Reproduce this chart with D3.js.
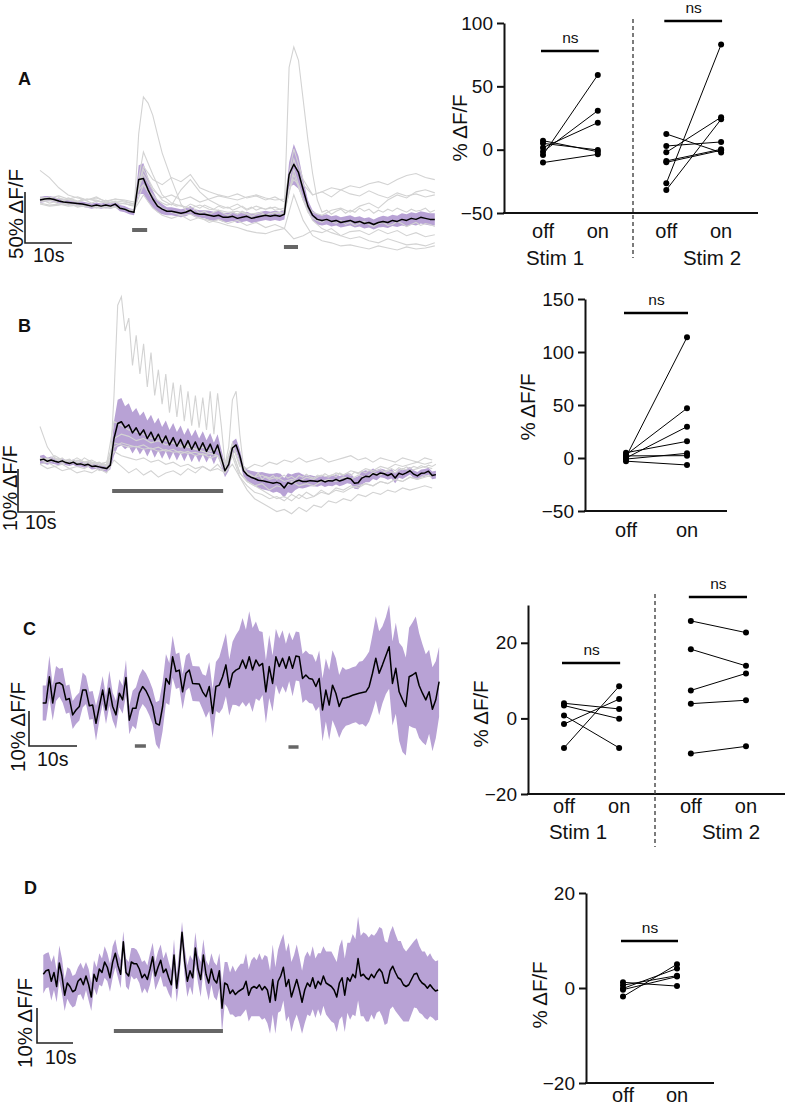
<!DOCTYPE html>
<html><head><meta charset="utf-8">
<script src="https://cdn.jsdelivr.net/npm/d3@7"></script>
<style>body{margin:0;background:#fff}svg text{font-family:"Liberation Sans",Arial,Helvetica,sans-serif;fill:#111}</style>
</head><body><svg id="fig" width="786" height="1106"></svg>
<script>
// ---------------- DATA ----------------
// Panel A traces (%dF/F, 1 s samples for mean/sem)
const A_mean=[0,1,1.5,0.5,-1,-2,-2.5,-3,-3.5,-4,-5,-6,-5,-6,-5,-6,-4,-8,-9,-11,
 -12,20,21,10,1,-6,-9,-11,-11,-12,-13,
 -12,-10,-13,-14,-14,-15,-16,-15,-17,-17,-16,-18,-17,-16,-18,-17,-16,-15,-16,-15,-16,
 -14,25,35,27,10,-6,-15,
 -19,-20,-19,-21,-20,-22,-21,-20,-22,-21,-23,-22,-24,-22,-21,-22,-20,-21,-19,-20,-18,-19,-17,-18,-19,-19];
const A_sem=[3,3,2.5,2.5,2.5,2.5,2.5,2.5,2.5,2.5,2.5,2.5,2.5,2.5,2.5,2.5,3,3,3,3,
 3,14,15,12,8,6,5,4,4,4,4,
 4,4,4,4,4,4.5,4.5,4.5,4.5,4.5,4.5,4.5,4.5,4.5,4.5,4.5,4.5,4.5,4.5,4.5,4.5,
 5,12,20,16,10,6,5,
 5,5,5,5,5,5,5,5,5,5,5,5,5,5,5.5,5.5,5.5,5.5,6,6,6,6,6,6,6,6];
const A_grey1=[-2,-1,-3,-2,-4,-3,-5,-4,-6,-5,-4,-6,-7,-5,-6,-8,-7,-8,-9,-10,
 -12,65,101,95,83,64,46,33,20,8,-4,
 -10,-12,-9,-13,-11,-14,-12,-10,-13,-15,-12,-14,-11,-13,-16,-14,-12,-15,-13,-14,-12,
 -13,10,20,15,0,-12,
 -18,-20,-22,-19,-21,-23,-20,-24,-22,-25,-23,-21,-24,-26,-23,-22,-25,-24,-21,-23,-26,-24,-22,-25,-23,-24,-26];
const A_grey2=[2,1,3,0,2,-1,1,0,-2,1,-1,-3,-1,-2,0,-3,-2,-4,-3,-5,
 -6,10,15,10,5,0,-3,-5,-4,-6,
 -5,-7,-4,-6,-8,-5,-7,-9,-6,-8,-7,-10,-8,-6,-9,-7,-10,-8,-9,-7,-10,-9,
 -8,130,150,137,98,59,26,0,
 -12,-10,-14,-11,-9,-13,-10,-12,-8,-11,-9,-13,-10,-12,-9,-11,-8,-10,-12,-9,-11,-10,-8,-12,-10];
// 2 s samples
const A_grey3=[29,22,12,5,2,0,3,-2,1,-1,-4,33,20,15,22,18,25,12,8,5,3,6,2,4,0,3,-2,40,15,5,8,12,10,14,12,16,18,15,20,24,26,22,20];
const A_grey4=[0,-1,2,0,-2,1,-1,-3,-2,-4,-5,47,25,5,-3,-6,-8,-5,-9,-10,-12,-11,-14,-13,-15,-12,-14,30,0,-20,-28,-32,-35,-38,-36,-40,-42,-38,-41,-44,-43,-45,-42];
const A_grey5=[-3,-5,-4,-6,-5,-7,-6,-8,-7,-9,-10,15,0,-8,-12,-15,-14,-18,-20,-22,-25,-27,-30,-32,-33,-30,-28,5,-20,-35,-40,-42,-45,-44,-46,-48,-45,-47,-49,-46,-48,-47,-45];
const A_grey6=[3,2,4,1,3,0,2,-1,1,0,-2,25,10,2,5,0,3,-2,1,4,2,0,3,5,2,0,1,50,20,5,8,3,10,6,4,9,5,2,7,4,6,3,5];
const A_grey7=[-4,-6,-5,-3,-7,-5,-8,-6,-7,-9,-10,5,-8,-15,-18,-15,-20,-17,-22,-19,-23,-20,-25,-22,-27,-24,-28,-38,-35,-30,-32,-28,-35,-31,-30,-34,-29,-33,-30,-35,-32,-36,-34];
const A_grey8=[1,0,-2,2,-1,1,0,-3,-1,-2,-4,30,12,0,-5,10,20,8,0,-5,-8,-4,-10,-6,-9,-7,-11,25,0,-12,-15,-10,-8,-12,-6,-3,-8,0,5,2,8,10,7];
const A_stims=[[19.6,22.8],[51.9,54.9]];

// Panel B traces (1 s samples)
const B_mean=[0,0.2,-0.3,0,-0.3,-0.5,-0.2,-0.6,-0.8,-0.5,-1,-0.9,-1.2,-1,-1.5,-1.4,-1.6,-1.8,-2,-1.2,
 5,8.5,8.9,7.5,8.2,6.3,7.5,5.8,7,5,6.5,4.5,6,4,5.6,3.5,5.2,3.2,4.8,2.8,4.5,2.5,4.2,2.2,4,2,3.7,1.5,3.5,0.5,
 -2.5,-1,2.8,3.5,1,-2.5,-3.5,
 -4,-4.3,-4.7,-4.8,-5,-5.2,-5.4,-5.2,-5.5,-6.5,-5.3,-5.6,-5,-4.7,-5,-5,-4.8,-4.9,-5,-4.7,
 -5.1,-4.8,-4.9,-4.5,-4.9,-4.6,-4.2,-4.4,-5.4,-5.3,-4.2,-3.8,-3.9,-3.2,-3.5,-3,-3.2,-3.6,-3.2,-4.2,
 -3.1,-3.4,-3,-2.5,-3.3,-3.7,-3.1,-3,-2.6,-3.6,-3.4];
const B_sem=[1,1,0.8,0.8,0.7,0.7,0.6,0.6,0.6,0.6,0.6,0.6,0.6,0.6,0.7,0.7,0.7,0.8,0.8,1,
 4,5.5,5.5,5,5,4.8,4.6,4.5,4.3,4.2,4,4,3.8,3.7,3.6,3.5,3.4,3.3,3.2,3.1,3,3,2.9,2.8,2.7,2.6,2.6,2.5,2.5,2,
 1.5,1.5,1.5,1.5,1.5,1.3,1.3,
 1.5,1.6,1.8,2,2,2,2.2,2.2,2.3,2.3,2.2,2.2,2,1.8,1.6,1.4,1.3,1.2,1.2,1.2,
 1.2,1.2,1.2,1.2,1.2,1.2,1.2,1.2,1.3,1.5,1.5,1.4,1.3,1.2,1.2,1,1,1,1.1,1.2,
 1,1,0.9,0.9,0.9,0.9,0.9,0.9,0.8,0.9,0.9];
const B_grey1=[0.5,0,0.3,-0.2,0,0.4,-0.3,0,0.2,-0.5,-0.2,0,-0.6,-0.3,-0.8,-0.5,-1,-0.7,-1.2,-0.5,
 15,36,38,30,33,22,29,20,27,17,25,15,21,13,20,11,18,10,17.5,9,16,8,15,7.5,14.5,7,16,6,15.5,8,-1,3,14,16,6,-1.5,-3,
 -3.5,-4,-3,-4.5,-3.8,-4.2,-3.6,-4.5,-4,-3.5,-4.2,-3.8,-4.4,-3.6,-4,-3.3,-3.9,-4.2,-3.5,-3.8,
 -3.2,-3.7,-3.4,-3.9,-3,-3.5,-3.1,-3.6,-2.8,-3.2,-2.6,-3,-2.4,-2.9,-2.5,-2.2,-2.7,-2.3,-2,-2.5,
 -1.8,-2.2,-1.6,-2,-1.5,-1.8,-1.3,-1.7,-1.2,-1.5,-1];
// 2 s samples
const B_grey2=[7.8,3,0.5,-0.5,0,-1,0.5,-0.5,-1,-1.5,3,4,3.5,3,3.5,2.5,3,2,2.5,1.5,2,1,1.5,0.5,1,-2,2,-3,-5,-6,-5.5,-7,-6,-6.5,-5,-6,-5.5,-6,-5,-4.5,-5,-4,-4.5,-3.5,-4,-3,-3.5,-2.5,-3,-2,-2.5,-2,-1.5,-2];
const B_grey3=[0,-0.5,0.5,-1,0,-0.5,-1,-0.5,-1.5,-1,9,8,7,6.5,6,5,5.5,4.5,4,3.5,3,2.5,2,1.5,1,-2,4,-1,-3,-4,-3.5,-4.5,-4,-5,-4.5,-5,-4,-4.5,-3.5,-4,-3,-3.5,-2.5,-3,-2,-2.5,-1.5,-2,-1,-1.5,-1,-0.5,-1,-0.5];
const B_grey4=[-1,-2,-1.5,-2.5,-2,-3,-2.5,-3,-2,-3,0,-1.5,-3,-2,-3.5,-2.5,-4,-3,-2.5,-3.5,-2,-3,-1.5,-2.5,-1,-3,1,-4,-7,-9,-10,-11,-12,-11.5,-12.5,-11,-12,-10.5,-11,-9.5,-10,-9,-9.5,-8,-8.5,-7.5,-8,-7,-7.5,-6.5,-7,-6.5,-6,-6.5];
const B_grey5=[0.5,0,1,0,-0.5,0.5,-0.5,0,-1,-0.5,4,3.5,3,3.2,2.5,2.8,2,2.4,1.8,2,1.5,1.8,1.2,1.5,1,-2.5,2,-3,-5,-6,-7,-8,-9,-8.5,-9.5,-8,-9,-8.5,-7.5,-8,-7,-7.5,-6.5,-6,-5.5,-6,-5,-5.5,-4.5,-5,-4,-4.5,-4,-3.5];
const B_grey6=[-1,-0.5,-1.5,-1,-2,-1.5,-2,-1,-2.5,-2,2,1,0.5,0,0.5,-0.5,0,-1,-0.5,-1.5,-1,-2,-1.5,-2.5,-2,-3,-1,-4,-6,-7.5,-8,-9,-8.5,-9.5,-8,-9,-7.5,-8.5,-7,-8,-6.5,-7,-6,-6.5,-5.5,-6,-5,-5.5,-4.5,-5,-4,-4.5,-3.5,-4];
const B_grey7=[0,0.5,-0.5,0.5,-1,0,-0.5,-1,-0.5,-1.5,5,6,5.5,4.5,5,4,4.5,3.5,4,3,3.5,2.5,3,2,2.5,-1,3.5,-1.5,-2,-1,-1.5,-0.5,-1,0,-0.5,0.5,-0.5,0,0.5,-0.5,0,0.5,1,0,0.5,-0.5,0.5,0,-0.5,0.5,0,-0.5,0.5,0];
const B_stims=[[19.5,49.5]];

// Panel C trace (0.694 s samples)
const C_mean=[0,0,7.5,0,5.6,5.8,5.1,0.9,1.3,-3.4,-2,-1,3.7,3.7,-0.8,-0.6,-5.8,-1,3.7,-2,
 4.2,-1,-3.4,2.8,0.9,7.3,-4.9,-1.5,-1.5,2.8,4.7,3.5,1.5,-1,-5.8,-6.3,-1,7,5.4,13.2,
 9,9.4,3.2,8.5,9.4,5.6,5.5,5.4,3.2,1.8,4.7,-3,4.7,5.1,7.5,10.9,4.4,8.5,9.4,9.9,
 12.3,9.9,13.2,9.4,12.3,10.6,11.3,3.2,10.4,5.6,13.2,10.4,12.8,9.9,13.2,9.9,13.4,13.2,7,8,
 7,6.8,4.7,7,-2,3.7,-0.6,5.1,2.8,-1,1.3,1.5,1.8,2.2,2.5,2.8,3,3.2,4.7,8.5,
 12.8,8.5,10.9,13.5,16.1,5.6,9.9,3.2,1,-1,7.5,8,8.7,5,2.8,0.9,3.2,-1.8,0.9,6.1];
const C_sem=[5,5,6,5,5,4,5,4,4,4,4,4,5,4,4,4,5,4,4,4,
 5,4,4,4,4,5,4,5,6,5,5,5,5,5,6,7,7,7,6,6,
 5,5,5,5,5,5,5,5,5,6,7,7,7,8,9,9,8,9,10,11,
 12,11,13,12,11,10,9,9,9,8,8,8,8,7,7,8,7,7,7,7,
 7,7,7,8,9,9,10,10,10,9,9,8,8,8,8,9,9,10,10,11,
 12,12,11,11,12,12,13,14,15,14,14,15,16,15,14,13,12,12,11,10];
const C_stims=[[19.2,21.5],[51.2,53.3]];

// Panel D trace (0.741 s samples)
const D_mean=[2.5,3.5,3.8,0.5,3,-1,5.7,2,-3.5,0,-1,-2.5,-2,0.5,1.3,-0.5,2,-0.5,-4,
 2.5,0.5,4,3,6,4.5,1.5,6,8.5,5,2.5,11.8,3,2,6,5.5,5.5,4,1.5,2.5,1,4,7.5,2,4.5,6.5,3,4,1.5,-0.5,8,-1.5,5,14.5,6,0.5,3.5,1.5,10,4,1,8,2.5,0,4,1,0,3.5,-7.2,
 0,-0.5,-3,-2,-3.3,-2.5,-2,-1.5,0.5,-3.5,-1.5,-1,-1.5,-0.5,-2,-1,-2,-5.5,1,-5,
 0.5,2,4.5,-1,1,-4,-1.5,1,-2,-5.5,-2,0,-1,1.5,-1.5,0.5,-0.5,2,0,-0.5,
 -1,-2,-4,0,1.5,-3.5,1.5,0.5,2.5,1.5,7,2,2.5,1.5,1,2.5,1.5,3,4,3,
 0,0,3.5,4.8,3,1.5,1,-0.5,-1,-0.5,1,2.5,2.8,1,0,-0.5,-1.5,-0.5,-1.5,-2.3,-2];
const D_sem=[5.5,5,5,5.5,5,4.5,5,5,4.5,4.5,5,4.5,4.5,4,4.5,4.5,4,4.5,4,
 4,4,4.5,4,4.5,4,4,4.5,4,3.5,4,3,4,4,4,4.5,4,4,4.5,4,4,4.5,4,4,4.5,4.5,4,5,4.5,4,4.5,4,4.5,3,4,4.5,4.5,5,4.5,4,5,4.5,4,5,4.5,5,5,5,7,
 6,6.5,6,7,6.5,7,7.5,7,8,7.5,8,8.5,8,9,8.5,9,9.5,9,10,9.5,
 9,10,9.5,10,10.5,10,9.5,10,9.5,9,9.5,9,8.5,9,8.5,8,9,8.5,9,9.5,
 10,9.5,10,10.5,11,10.5,10,11,11.5,11,12,11.5,12,12.5,12,11.5,12,11.5,12,12.5,
 12,11.5,11,11.5,11,10.5,11,10.5,10,10.5,10,9.5,10,9.5,9,9.5,9,9,8.5,8.5,8.5];
const D_stims=[[19.6,49.9]];

// Paired data (% dF/F)
const A1_off=[7.1,5,1.6,-1.6,-4.2,-10.2], A1_on=[-1.6,-0.2,21.3,30.8,59,-3.7];
const A2_off=[12.4,2.9,-2.1,-8.9,-10,-26.5,-31.8], A2_on=[-2.3,6.1,25.6,0.3,-0.5,83,24];
const B_off=[1,3,0,5,-1,2,-3], B_on=[113.9,46.9,29.5,15.7,4.4,2.2,-6.6];
const C1_off=[4,3.4,0.8,-1.5,-7.8], C1_on=[2.5,-0.1,-7.8,5.1,8.5];
const C2_off=[25.8,18.3,7.4,3.9,-9.3], C2_on=[22.7,13.9,11.9,4.8,-7.4];
const D_off=[1.2,0.6,-0.1,-0.35,-1.8], D_on=[0.4,2.6,4.1,2.4,5];
const conds=["off","on"];
const yTicksA=[-50,0,50,100], yTicksB=[-50,0,50,100,150], yTicksC=[-20,0,20], yTicksD=[-20,0,20];

// ---------------- DRAWING ----------------
const svg=d3.select("#fig");
const PURPLE="#b8a2d5", GREY="#d3d3d3";

function drawTrace(o){
  const x=d3.scaleLinear().domain([0,1]).range([o.x0,o.x0+o.pps]);
  const y=d3.scaleLinear().domain([0,1]).range([o.base,o.base-o.ppu]);
  const g=svg.append("g");
  g.append("path").datum(o.mean).attr("fill",PURPLE).attr("stroke","none")
    .attr("d",d3.area().x((d,i)=>x(i*o.step)).y0((d,i)=>y(d-o.sem[i])).y1((d,i)=>y(d+o.sem[i])));
  (o.greys||[]).forEach(tr=>{
    g.append("path").datum(tr.v).attr("fill","none").attr("stroke",GREY).attr("stroke-width",1.1)
      .attr("d",d3.line().x((d,i)=>x(i*tr.step)).y(d=>y(d)));
  });
  g.append("path").datum(o.mean).attr("fill","none").attr("stroke","#000").attr("stroke-width",1.5)
    .attr("stroke-linejoin","round")
    .attr("d",d3.line().x((d,i)=>x(i*o.step)).y(d=>y(d)));
  o.stims.forEach((s,i)=>{
    g.append("line").attr("x1",x(s[0])).attr("x2",x(s[1])).attr("y1",o.stimY[i]).attr("y2",o.stimY[i])
      .attr("stroke","#666").attr("stroke-width",o.stimW);
  });
  // scale bar
  const sb=o.sb;
  const len=x(10)-x(0), hgt=y(0)-y(sb.pct);
  g.append("path").attr("d",`M${sb.x},${sb.y-hgt}V${sb.y}H${sb.x+len}`)
    .attr("fill","none").attr("stroke","#222").attr("stroke-width",1.6);
  g.append("text").attr("transform",`translate(${sb.lx},${sb.ly}) rotate(-90)`)
    .attr("font-size",sb.fs||20.5).text(sb.pct+"% ΔF/F");
  g.append("text").attr("x",sb.tx).attr("y",sb.ty).attr("font-size",19.5).text("10s");
  g.append("text").attr("x",o.letter[1]).attr("y",o.letter[2]).attr("font-size",18)
    .attr("font-weight","bold").text(o.letter[0]);
}

function drawPaired(o){
  const y=d3.scaleLinear().domain(o.yDomain).range(o.yRange);
  const x=d3.scaleLinear().domain([0,1]).range([o.c0,o.c0+o.unit]);
  const g=svg.append("g");
  const axg=g.append("g").attr("transform",`translate(${o.axX},0)`)
    .call(d3.axisLeft(y).tickValues(o.ticks).tickSize(7).tickSizeOuter(0).tickPadding(4));
  axg.selectAll("path,line").attr("stroke","#111").attr("stroke-width",2);
  axg.selectAll("text").attr("font-size",19).attr("font-family",'"Liberation Sans",Arial,sans-serif').attr("fill","#111");
  const yb=y(o.yDomain[0]);
  g.append("line").attr("x1",o.axX-1).attr("x2",o.axEnd).attr("y1",yb).attr("y2",yb)
    .attr("stroke","#111").attr("stroke-width",2);
  g.append("text").attr("transform",`translate(${o.title[0]},${o.title[1]}) rotate(-90)`)
    .attr("text-anchor","middle").attr("font-size",20.5).text("% ΔF/F");
  o.groups.forEach(gr=>{
    const xo=x(gr.slots[0]), xn=x(gr.slots[1]);
    gr.off.forEach((v,i)=>{
      g.append("line").attr("x1",xo).attr("x2",xn).attr("y1",y(v)).attr("y2",y(gr.on[i]))
        .attr("stroke","#000").attr("stroke-width",1);
    });
    gr.off.forEach(v=>g.append("circle").attr("cx",xo).attr("cy",y(v)).attr("r",3).attr("fill","#000"));
    gr.on.forEach(v=>g.append("circle").attr("cx",xn).attr("cy",y(v)).attr("r",3).attr("fill","#000"));
    g.append("line").attr("x1",xo-2).attr("x2",xn+1).attr("y1",gr.nsY).attr("y2",gr.nsY)
      .attr("stroke","#000").attr("stroke-width",2.5);
    g.append("text").attr("x",(xo+xn)/2).attr("y",gr.nsY-8).attr("text-anchor","middle")
      .attr("font-size",15.5).text("ns");
    [xo,xn].forEach((cx,i)=>g.append("text").attr("x",cx).attr("y",o.catY).attr("text-anchor","middle")
      .attr("font-size",20).text(conds[i]));
    if(gr.label) g.append("text").attr("x",gr.label[1]).attr("y",gr.label[2]).attr("text-anchor","middle")
      .attr("font-size",20.5).text(gr.label[0]);
  });
  if(o.divider) g.append("line").attr("x1",o.divider[0]).attr("x2",o.divider[0])
    .attr("y1",o.divider[1]).attr("y2",o.divider[2]).attr("stroke","#444").attr("stroke-width",1.4)
    .attr("stroke-dasharray","4,3");
}

// Panel A
drawTrace({x0:40,pps:4.7,base:200,ppu:1.02,step:1,mean:A_mean,sem:A_sem,
  greys:[{v:A_grey3,step:2},{v:A_grey4,step:2},{v:A_grey5,step:2},{v:A_grey6,step:2},{v:A_grey7,step:2},{v:A_grey8,step:2},{v:A_grey1,step:1},{v:A_grey2,step:1}],
  stims:A_stims,stimY:[230,247],stimW:4,
  sb:{x:25,y:243,pct:50,lx:23,ly:259,tx:33,ty:262},letter:["A",18,85]});
drawPaired({yDomain:[-50,100],yRange:[213,23],ticks:yTicksA,axX:504,axEnd:758,c0:543,unit:54.8,
  catY:238,title:[467,128],divider:[633,19,258],
  groups:[{slots:[0,1],off:A1_off,on:A1_on,nsY:51,label:["Stim 1",555,265]},
          {slots:[2.25,3.25],off:A2_off,on:A2_on,nsY:21,label:["Stim 2",712,265]}]});

// Panel B
drawTrace({x0:40,pps:3.7,base:460,ppu:4.3,step:1,mean:B_mean,sem:B_sem,
  greys:[{v:B_grey2,step:2},{v:B_grey3,step:2},{v:B_grey4,step:2},{v:B_grey5,step:2},{v:B_grey6,step:2},{v:B_grey7,step:2},{v:B_grey1,step:1}],
  stims:B_stims,stimY:[491],stimW:4,
  sb:{x:18,y:512,pct:10,lx:16.5,ly:531,tx:25,ty:529,fs:19.5},letter:["B",18,332]});
drawPaired({yDomain:[-50,150],yRange:[511,299],ticks:yTicksB,axX:585,axEnd:727,c0:626,unit:61,
  catY:537,title:[535,407],
  groups:[{slots:[0,1],off:B_off,on:B_on,nsY:313}]});

// Panel C
drawTrace({x0:42.7,pps:4.8,base:703,ppu:3.5,step:0.694,mean:C_mean,sem:C_sem,
  greys:[],stims:C_stims,stimY:[746,747],stimW:3.5,
  sb:{x:29,y:746,pct:10,lx:25,ly:772,tx:37,ty:766},letter:["C",23,635]});
drawPaired({yDomain:[-20,30],yRange:[794,605],ticks:yTicksC,axX:528,axEnd:785,c0:564,unit:55.15,
  catY:813,title:[488,714],divider:[655,594,847],
  groups:[{slots:[0,1],off:C1_off,on:C1_on,nsY:663,label:["Stim 1",578,839]},
          {slots:[2.3,3.3],off:C2_off,on:C2_on,nsY:597,label:["Stim 2",731,839]}]});

// Panel D
drawTrace({x0:43.3,pps:3.6,base:983,ppu:3.5,step:0.741,mean:D_mean,sem:D_sem,
  greys:[],stims:D_stims,stimY:[1031],stimW:4,
  sb:{x:37,y:1043,pct:10,lx:32,ly:1068,tx:45,ty:1064},letter:["D",24,894]});
drawPaired({yDomain:[-20,20],yRange:[1083,893],ticks:yTicksD,axX:586,axEnd:714,c0:623,unit:54,
  catY:1102,title:[547,995],
  groups:[{slots:[0,1],off:D_off,on:D_on,nsY:941}]});
</script></body></html>
